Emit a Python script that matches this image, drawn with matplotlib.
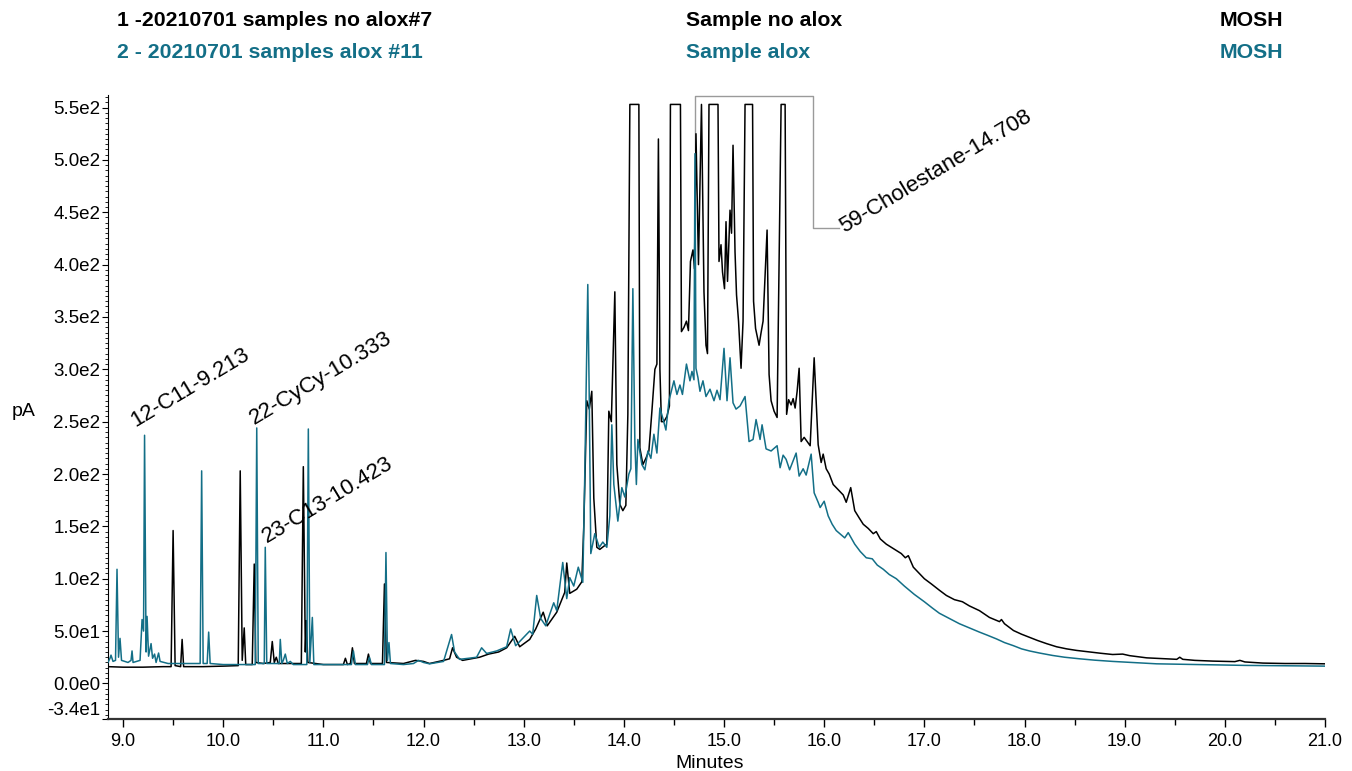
import matplotlib
matplotlib.use("Agg")
import matplotlib.pyplot as plt
from matplotlib.ticker import MultipleLocator, FixedLocator
import numpy as np

plt.rcParams['font.family'] = ['Liberation Sans', 'DejaVu Sans']

# ---------------- data ----------------
# Trace 1: sample without alox (black)
black_t = [8.85, 9.00, 9.20, 9.40, 9.48, 9.50, 9.52, 9.575, 9.59, 9.605, 9.80, 10.00, 10.15, 10.17, 10.19,
           10.21, 10.225, 10.29, 10.31, 10.325, 10.40, 10.47, 10.49, 10.51, 10.53, 10.55, 10.78, 10.80, 10.82,
           10.83, 10.845, 11.00, 11.20, 11.22, 11.24, 11.27, 11.29, 11.31, 11.43, 11.45, 11.47, 11.59, 11.61,
           11.63, 11.80, 11.92, 12.00, 12.06, 12.20, 12.26, 12.29, 12.33, 12.39, 12.56, 12.65, 12.75, 12.83,
           12.91, 12.96, 13.06, 13.12, 13.195, 13.235, 13.33, 13.41, 13.43, 13.46, 13.53, 13.58, 13.60, 13.63,
           13.655, 13.68, 13.70, 13.73, 13.76, 13.80, 13.83, 13.85, 13.875, 13.91, 13.93, 13.96, 13.99, 14.02,
           14.04, 14.06, 14.15, 14.16, 14.19, 14.22, 14.25, 14.28, 14.31, 14.33, 14.345, 14.36, 14.375, 14.40,
           14.43, 14.455, 14.465, 14.565, 14.575, 14.60, 14.625, 14.645, 14.665, 14.69, 14.705, 14.72, 14.745,
           14.775, 14.80, 14.82, 14.835, 14.85, 14.94, 14.95, 14.97, 14.985, 15.005, 15.02, 15.035, 15.06,
           15.075, 15.09, 15.11, 15.125, 15.145, 15.17, 15.19, 15.21, 15.285, 15.295, 15.315, 15.35, 15.37,
           15.39, 15.43, 15.45, 15.47, 15.50, 15.53, 15.57, 15.61, 15.625, 15.645, 15.67, 15.69, 15.71, 15.73,
           15.75, 15.77, 15.80, 15.83, 15.86, 15.90, 15.94, 15.97, 15.99, 16.02, 16.05, 16.09, 16.15, 16.19,
           16.22, 16.265, 16.305, 16.35, 16.39, 16.44, 16.49, 16.52, 16.56, 16.62, 16.67, 16.72, 16.77, 16.81,
           16.84, 16.89, 16.95, 17.00, 17.07, 17.15, 17.22, 17.30, 17.38, 17.45, 17.55, 17.65, 17.75, 17.77,
           17.80, 17.89, 17.97, 18.05, 18.13, 18.22, 18.32, 18.42, 18.52, 18.65, 18.76, 18.88, 18.98, 19.05,
           19.22, 19.40, 19.52, 19.55, 19.58, 19.70, 19.88, 20.10, 20.15, 20.20, 20.38, 20.60, 20.80, 21.00]
black_v = [16, 15.5, 15.5, 16, 16, 146, 17, 16, 42, 16, 16, 16.5, 17, 203, 22,
           53, 18, 18, 114, 20, 19, 20, 40, 20, 25, 19, 19, 207, 30,
           60, 20, 18, 18, 24, 18, 19, 34, 19, 19, 28, 19, 19, 95,
           20, 19, 22, 21, 19, 22, 23.5, 34, 25, 22, 25, 28, 30, 34,
           45, 35, 42, 52, 68, 55, 68, 87, 115, 86, 90, 97, 150, 270,
           262, 279, 177, 130, 128, 131, 133, 260, 250, 374, 209, 171, 165, 170,
           257, 553, 553, 225, 209, 215, 222, 260, 300, 305, 520, 300, 250, 250,
           255, 265, 553, 553, 336, 340, 346, 337, 403, 414, 396, 525, 400,
           553, 374, 323, 315, 553, 553, 403, 419, 393, 377, 441, 384, 452,
           430, 514, 412, 371, 346, 301, 346, 553, 553, 365, 339, 323, 335,
           346, 433, 295, 270, 260, 254, 553, 553, 257, 271, 266, 272, 263, 279,
           301, 231, 235, 231, 227, 311, 228, 211, 219, 205, 200, 190, 184, 180,
           173, 187, 165, 158, 152, 148, 143, 145, 138, 133, 130, 127, 124, 120,
           122, 111, 105, 100, 95, 89, 84, 80, 78, 74, 69.5, 63, 59, 61,
           57, 50.5, 47, 44, 41, 38, 35, 33, 31.5, 30, 28.8, 27.6, 28, 26.5,
           24.4, 23.5, 23, 25, 23, 22, 21.3, 20.8, 22, 20.5, 19.4, 19, 19, 18.7]

# Trace 2: sample with alox (teal)
teal_t = [8.85, 8.87, 8.88, 8.90, 8.925, 8.94, 8.955, 8.97, 8.985, 9.05, 9.08, 9.09, 9.10, 9.17, 9.19,
          9.205, 9.215, 9.23, 9.24, 9.255, 9.28, 9.295, 9.315, 9.33, 9.355, 9.37, 9.45, 9.60, 9.77, 9.785,
          9.80, 9.84, 9.855, 9.87, 10.00, 10.20, 10.32, 10.335, 10.35, 10.41, 10.42, 10.435, 10.50, 10.56,
          10.57, 10.585, 10.60, 10.62, 10.64, 10.67, 10.70, 10.835, 10.85, 10.865, 10.89, 10.905, 11.00,
          11.28, 11.30, 11.32, 11.44, 11.46, 11.48, 11.61, 11.625, 11.64, 11.655, 11.67, 11.80, 11.90, 11.95,
          12.00, 12.06, 12.20, 12.28, 12.31, 12.36, 12.45, 12.53, 12.58, 12.63, 12.73, 12.83, 12.87, 12.92,
          13.00, 13.06, 13.09, 13.13, 13.17, 13.22, 13.30, 13.33, 13.39, 13.43, 13.46, 13.50, 13.545, 13.59,
          13.61, 13.64, 13.655, 13.67, 13.71, 13.755, 13.79, 13.83, 13.86, 13.88, 13.90, 13.94, 13.98, 14.01,
          14.05, 14.07, 14.09, 14.11, 14.125, 14.14, 14.18, 14.21, 14.24, 14.27, 14.30, 14.33, 14.36, 14.39,
          14.42, 14.45, 14.50, 14.53, 14.56, 14.585, 14.625, 14.66, 14.68, 14.70, 14.71, 14.72, 14.74, 14.76,
          14.79, 14.82, 14.86, 14.90, 14.93, 14.96, 15.00, 15.03, 15.06, 15.09, 15.12, 15.16, 15.21, 15.25,
          15.29, 15.32, 15.36, 15.38, 15.42, 15.47, 15.53, 15.56, 15.59, 15.62, 15.655, 15.72, 15.75, 15.79,
          15.82, 15.87, 15.90, 15.94, 15.96, 16.00, 16.04, 16.08, 16.12, 16.205, 16.24, 16.305, 16.36, 16.42,
          16.48, 16.53, 16.59, 16.65, 16.72, 16.80, 16.90, 17.00, 17.08, 17.15, 17.25, 17.35, 17.45, 17.55,
          17.63, 17.72, 17.80, 17.89, 17.97, 18.05, 18.15, 18.28, 18.40, 18.55, 18.70, 18.88, 19.10, 19.32,
          19.60, 19.88, 20.20, 20.60, 21.00]
teal_v = [20, 24, 27, 21, 22, 109, 25, 43, 22, 20, 22, 31, 20, 22, 61,
          50, 237, 30, 64, 26, 38, 24, 28, 20, 29, 21, 19, 19, 19, 203,
          19, 19, 49, 19, 18, 18, 18, 244, 19, 19, 130, 19, 19, 19,
          42, 19, 22, 28, 19, 21, 18, 18, 243, 20, 63, 18, 18,
          18, 31, 18, 18, 25, 18, 18, 125, 22, 39, 19, 18, 19, 22,
          20, 18.7, 21, 46.7, 30, 23, 24, 25, 34, 28.6, 31, 35, 52, 36,
          44, 50, 47, 84, 62, 55, 77, 69.5, 115.5, 81, 101, 93, 111, 96.5,
          200, 381, 270, 124, 143, 130, 135, 130, 160, 247, 190, 155, 187, 178,
          200, 205, 377, 230, 190, 233, 209, 204, 222, 215, 238, 220, 263, 253,
          242, 270, 289, 276, 285, 276, 305, 289, 298, 290, 506, 301, 292, 279,
          289, 274, 281, 270, 280, 271, 320, 270, 311, 268, 262, 265, 274, 231,
          233, 252, 233, 247, 224, 222, 227, 206, 218, 214, 204, 220, 198, 205,
          199, 219, 182, 173, 168, 174, 160, 152, 146, 139, 144, 133, 126, 120,
          119, 113, 109, 104, 100, 93, 85, 78, 72, 67, 62, 57, 53, 49,
          46, 42.5, 39, 36, 33, 31, 29, 26.7, 25, 23.5, 22.2, 21, 19.8, 18.7,
          18.2, 17.7, 17.2, 16.8, 16.5]

y_ticks = [-34, 0, 50, 100, 150, 200, 250, 300, 350, 400, 450, 500, 550]
y_tick_labels = ['-3.4e1', '0.0e0', '5.0e1', '1.0e2', '1.5e2', '2.0e2', '2.5e2', '3.0e2',
                 '3.5e2', '4.0e2', '4.5e2', '5.0e2', '5.5e2']
x_ticks = [9.0, 10.0, 11.0, 12.0, 13.0, 14.0, 15.0, 16.0, 17.0, 18.0, 19.0, 20.0, 21.0]

TEAL = '#136f87'

# ---------------- figure ----------------
fig = plt.figure(figsize=(13.52, 7.71), dpi=100)
ax = fig.add_axes([108 / 1352, 1 - 719 / 771, (1325 - 108) / 1352, (719 - 95) / 771])

ax.plot(black_t, black_v, color='black', lw=1.1, zorder=2)
ax.plot(teal_t, teal_v, color=TEAL, lw=1.1, zorder=3)

ax.set_xlim(8.85, 21.0)
ax.set_ylim(-34, 562)

ax.xaxis.set_major_locator(FixedLocator(x_ticks))
ax.set_xticklabels([f'{t:.1f}' for t in x_ticks])
ax.xaxis.set_minor_locator(MultipleLocator(0.5))
ax.yaxis.set_major_locator(FixedLocator(y_ticks))
ax.set_yticklabels(y_tick_labels)
ax.yaxis.set_minor_locator(MultipleLocator(5))

ax.tick_params(axis='x', which='major', length=6, width=1, pad=4, labelsize=13)
ax.tick_params(axis='x', which='minor', length=4, width=1)
ax.tick_params(axis='y', which='major', length=4, width=0.8, pad=1.5, labelsize=13.5)
ax.tick_params(axis='y', which='minor', length=2, width=0.6)
for lab in ax.get_yticklabels():
    if lab.get_text() == '-3.4e1':
        lab.set_va('bottom')

for s in ['top', 'right']:
    ax.spines[s].set_visible(False)
ax.spines['bottom'].set_linewidth(1.6)
ax.spines['bottom'].set_color('#333333')
ax.spines['left'].set_linewidth(0.8)

# annotations
ann_kw = dict(rotation=31, rotation_mode='anchor', ha='left', va='baseline', fontsize=16)
ax.text(9.12, 245, '12-C11-9.213', **ann_kw)
ax.text(10.31, 247, '22-CyCy-10.333', **ann_kw)
ax.text(10.44, 134, '23-C13-10.423', **ann_kw)
ax.text(16.20, 430, '59-Cholestane-14.708', **ann_kw)
ax.plot([14.708, 14.708, 15.89, 15.89, 16.15], [509, 561, 561, 434.6, 434.6],
        color='#9a9a9a', lw=1.0, clip_on=False, zorder=1)

# axis labels
fig.text(24 / 1352, 1 - 411 / 771, 'pA', ha='center', va='center', fontsize=14)
fig.text(710 / 1352, 1 - 763 / 771, 'Minutes', ha='center', va='center', fontsize=14)

# header
hdr = dict(fontsize=15.3, fontweight='bold', va='center')
fig.text(117 / 1352, 1 - 21 / 771, '1 -20210701 samples no alox#7', color='black', ha='left', **hdr)
fig.text(117 / 1352, 1 - 52 / 771, '2 - 20210701 samples alox #11', color=TEAL, ha='left', **hdr)
fig.text(686 / 1352, 1 - 21 / 771, 'Sample no alox', color='black', ha='left', **hdr)
fig.text(686 / 1352, 1 - 52 / 771, 'Sample alox', color=TEAL, ha='left', **hdr)
fig.text(1283 / 1352, 1 - 21 / 771, 'MOSH', color='black', ha='right', **hdr)
fig.text(1283 / 1352, 1 - 52 / 771, 'MOSH', color=TEAL, ha='right', **hdr)

fig.savefig('out.png', dpi=100)
